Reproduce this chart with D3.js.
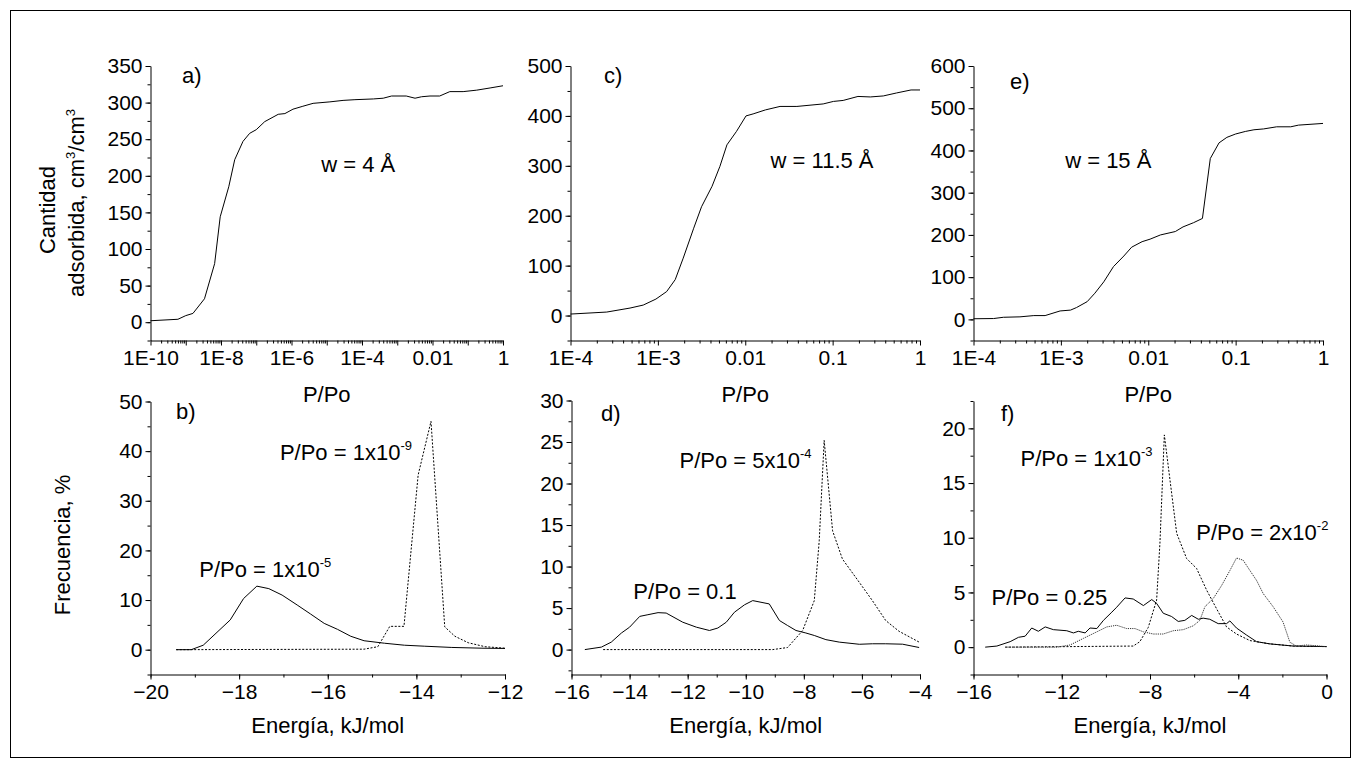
<!DOCTYPE html>
<html>
<head>
<meta charset="utf-8">
<script src="https://cdn.jsdelivr.net/npm/d3@7"></script>
<style>
    body { margin: 0; background: #fff; }
    svg { display: block; font-family: "Liberation Sans", Arial, sans-serif; }
</style>
</head>
<body>
<div id="chart"></div>
<script>
// ---- data: isotherms (P/Po, cm3/cm3) ----
let isoA = [[1e-10, 2], [6e-10, 4], [1.0e-9, 9], [1.6e-9, 12], [3.4e-9, 32], [6.6e-9, 80], [9.5e-9, 144],
    [1.66e-8, 185], [2.45e-8, 222], [4.2e-8, 247], [6.5e-8, 258], [1.0e-7, 263], [1.74e-7, 274], [4.2e-7, 284],
    [6.5e-7, 285], [1.1e-6, 291], [2.1e-6, 295], [4.1e-6, 299], [1.23e-5, 301], [2.9e-5, 303], [6.3e-5, 304],
    [2.1e-4, 305], [4.0e-4, 306], [6.9e-4, 309], [1.8e-3, 309], [3.2e-3, 306], [4.9e-3, 308], [8.5e-3, 309],
    [1.6e-2, 309], [3.1e-2, 315], [7.4e-2, 315], [1.8e-1, 317], [4.3e-1, 320], [1, 323]];
let isoC = [[1e-4, 3], [2.6e-4, 7], [4.8e-4, 15], [6.8e-4, 21], [9.5e-4, 33], [1.26e-3, 48], [1.58e-3, 72],
    [1.95e-3, 115], [2.57e-3, 175], [3.16e-3, 218], [4.17e-3, 259], [5.13e-3, 299], [6.17e-3, 342],
    [7.94e-3, 369], [1.02e-2, 400], [1.23e-2, 404], [1.7e-2, 412], [2.5e-2, 419], [3.9e-2, 419], [7.8e-2, 424],
    [1.02e-1, 429], [1.32e-1, 431], [1.95e-1, 439], [2.7e-1, 438], [3.8e-1, 440], [5.4e-1, 446], [7.9e-1, 452], [1, 452]];
let isoE = [[1e-4, 1.5], [1.7e-4, 2], [2.2e-4, 5], [3.4e-4, 6], [4.9e-4, 9], [6.6e-4, 9], [9.8e-4, 20],
    [1.29e-3, 22], [1.51e-3, 28], [2.0e-3, 42], [2.45e-3, 62], [3.1e-3, 89], [4.0e-3, 125], [5.25e-3, 150],
    [6.46e-3, 171], [8.5e-3, 184], [1.05e-2, 190], [1.38e-2, 200], [2.04e-2, 208], [2.5e-2, 219], [3.3e-2, 229],
    [4.17e-2, 239], [5.13e-2, 381], [6.46e-2, 418], [7.94e-2, 431], [0.1, 439], [0.129, 445], [0.162, 449],
    [0.209, 451], [0.295, 456], [0.427, 456], [0.525, 460], [1, 464]];

// ---- data: energy distributions (kJ/mol, %) ----
let freqB1e5 = [[-19.42, 0], [-19.08, 0], [-18.81, 0.9], [-18.2, 6], [-17.9, 10.3], [-17.6, 12.8], [-17.33, 12.3],
    [-17.03, 11], [-16.69, 9], [-16.39, 7.2], [-16.08, 5.3], [-15.78, 4.1], [-15.48, 2.7], [-15.18, 1.8],
    [-14.72, 1.3], [-14.27, 0.9], [-13.81, 0.7], [-13.2, 0.45], [-12.52, 0.3], [-12, 0.25]];
let freqB1e9 = [[-19.42, 0], [-15.18, 0.1], [-14.87, 0.6], [-14.6, 4.7], [-14.28, 4.7], [-13.96, 35.2],
    [-13.67, 46], [-13.36, 4.6], [-13.13, 2.7], [-12.83, 1.4], [-12.45, 0.6], [-12, 0.3]];
let freqD01 = [[-15.54, 0], [-14.97, 0.3], [-14.63, 0.9], [-14.28, 2], [-14.0, 2.7], [-13.65, 4.0], [-13.37, 4.2],
    [-13.02, 4.45], [-12.74, 4.4], [-12.17, 3.3], [-11.7, 2.7], [-11.25, 2.3], [-10.96, 2.6], [-10.67, 3.3],
    [-10.39, 4.5], [-10.04, 5.4], [-9.76, 5.9], [-9.19, 5.5], [-8.84, 3.5], [-8.56, 2.9], [-8.27, 2.3],
    [-7.93, 2], [-7.64, 1.7], [-7.24, 1.2], [-6.78, 0.9], [-6.09, 0.64], [-5.64, 0.7], [-5.18, 0.7],
    [-4.6, 0.65], [-4.03, 0.25]];
let freqD5e4 = [[-14.91, 0], [-9.07, 0], [-8.56, 0.25], [-8.04, 2.3], [-7.64, 5.9], [-7.47, 13.1], [-7.3, 25.2],
    [-7.01, 14.3], [-6.67, 10.9], [-6.09, 8.1], [-5.64, 5.9], [-5.18, 3.5], [-4.72, 2.2], [-4.03, 0.9]];
let freqF025 = [[-15.47, 0], [-14.94, 0.1], [-14.34, 0.5], [-13.96, 0.9], [-13.66, 1.0], [-13.36, 1.75],
    [-13.06, 1.45], [-12.75, 1.85], [-12.38, 1.6], [-11.77, 1.5], [-11.47, 1.3], [-11.25, 1.45], [-10.94, 1.3],
    [-10.72, 1.75], [-10.41, 1.7], [-10.11, 2.45], [-9.73, 3.2], [-9.51, 3.65], [-9.13, 4.5], [-8.76, 4.4],
    [-8.3, 3.8], [-7.92, 4.35], [-7.7, 4.0], [-7.4, 3.1], [-7.02, 2.8], [-6.72, 2.35], [-6.42, 2.45],
    [-6.11, 2.9], [-5.81, 2.55], [-5.59, 2.65], [-5.29, 2.55], [-4.91, 2.15], [-4.53, 2.15], [-4.38, 2.4],
    [-4.08, 1.75], [-3.62, 1.1], [-3.17, 0.5], [-2.57, 0.3], [-1.51, 0.1], [0, 0.05]];
let freqF1e3 = [[-14.56, 0], [-8.76, 0.1], [-8.46, 0.5], [-8.08, 1.8], [-7.7, 4.3], [-7.55, 9.5], [-7.35, 19.4],
    [-7.17, 16.5], [-6.79, 10.4], [-6.34, 8.1], [-5.89, 7.2], [-5.43, 5.2], [-4.98, 3.5], [-4.53, 1.85],
    [-4.08, 1.2], [-3.47, 0.6], [-2.57, 0.3], [-1.51, 0.1], [0, 0.05]];
let freqF2e2 = [[-14.56, 0], [-12.22, 0], [-11.62, 0.2], [-11.02, 0.8], [-10.41, 1.4], [-9.96, 1.85], [-9.51, 2.0],
    [-9.06, 1.7], [-8.68, 1.7], [-8.3, 1.4], [-7.85, 1.2], [-7.4, 1.2], [-6.95, 1.5], [-6.49, 1.6], [-6.04, 1.95],
    [-5.74, 2.45], [-5.51, 3.7], [-5.13, 4.45], [-4.75, 5.65], [-4.38, 7.0], [-4.08, 8.15], [-3.78, 7.95],
    [-3.47, 7.0], [-3.17, 6.1], [-2.87, 4.9], [-2.42, 3.7], [-1.97, 2.3], [-1.66, 0.45], [-1.36, 0.1],
    [-0.91, 0.2], [-0.61, 0.15], [0, 0.05]];

// ---- tick labels ----
let ticksLogA = [1e-10, 1e-8, 1e-6, 1e-4, 0.01, 1];
let labelsLogA = ["1E-10", "1E-8", "1E-6", "1E-4", "0.01", "1"];
let ticksLogCE = [1e-4, 1e-3, 0.01, 0.1, 1];
let labelsLogCE = ["1E-4", "1E-3", "0.01", "0.1", "1"];

let width = 1361, height = 768;
let tickFont = 21, textFont = 22;
let svg = d3.select("#chart").append("svg")
    .attr("width", width)
    .attr("height", height);

svg.append("rect")
    .attr("x", 10.5).attr("y", 10.5)
    .attr("width", 1340).attr("height", 747)
    .attr("fill", "none").attr("stroke", "#000").attr("stroke-width", 1);

let panels = [
    { id: "a", left: 150.5, right: 503, top: 66, bottom: 340.5, log: true,
      xDomain: [1e-10, 1], xTicks: ticksLogA, xLabels: labelsLogA,
      yDomain: [-25, 350], yStep: 50, yMinor: 25, label: [182, 83], xTitle: "P/Po",
      series: [{ data: isoA, dash: null }],
      notes: [{ x: 7.0e-6, y: 205, text: "w = 4 Å" }] },
    { id: "c", left: 570.5, right: 920, top: 66, bottom: 340.5, log: true,
      xDomain: [1e-4, 1], xTicks: ticksLogCE, xLabels: labelsLogCE,
      yDomain: [-50, 500], yStep: 100, yMinor: 50, label: [604, 83], xTitle: "P/Po",
      series: [{ data: isoC, dash: null }],
      notes: [{ x: 0.0195, y: 296, text: "w = 11.5 Å" }] },
    { id: "e", left: 973.5, right: 1323, top: 66, bottom: 340.5, log: true,
      xDomain: [1e-4, 1], xTicks: ticksLogCE, xLabels: labelsLogCE,
      yDomain: [-50, 600], yStep: 100, yMinor: 50, label: [1010, 89], xTitle: "P/Po",
      series: [{ data: isoE, dash: null }],
      notes: [{ x: 1.12e-3, y: 358, text: "w = 15 Å" }] },
    { id: "b", left: 150.5, right: 505, top: 401.5, bottom: 674.5, log: false,
      xDomain: [-20, -12], xStep: 2, xMinor: 1,
      yDomain: [-5, 50], yStep: 10, yMinor: 5, label: [176, 419], xTitle: "Energía, kJ/mol",
      series: [{ data: freqB1e5, dash: null }, { data: freqB1e9, dash: "2,1.6" }],
      notes: [{ x: -17.08, y: 38.2, text: "P/Po = 1x10", sup: "-9" },
              { x: -18.9, y: 14.7, text: "P/Po = 1x10", sup: "-5" }] },
    { id: "d", left: 571.5, right: 920, top: 400.5, bottom: 674.5, log: false,
      xDomain: [-16, -4], xStep: 2, xMinor: 1,
      yDomain: [-3, 30], yStep: 5, yMinor: 2.5, label: [601, 421], xTitle: "Energía, kJ/mol",
      series: [{ data: freqD01, dash: null }, { data: freqD5e4, dash: "2,1.6" }],
      notes: [{ x: -12.28, y: 21.9, text: "P/Po = 5x10", sup: "-4" },
              { x: -13.87, y: 6.1, text: "P/Po = 0.1" }] },
    { id: "f", left: 973.5, right: 1326.5, top: 401, bottom: 674.5, log: false,
      xDomain: [-16, 0], xStep: 4, xMinor: 2,
      yDomain: [-2.5, 22.5], yStep: 5, yMinor: 2.5, label: [1001, 421], xTitle: "Energía, kJ/mol",
      series: [{ data: freqF025, dash: null }, { data: freqF1e3, dash: "2,1.6" },
               { data: freqF2e2, dash: "1.2,1", color: "#333" }],
      notes: [{ x: -13.87, y: 16.6, text: "P/Po = 1x10", sup: "-3" },
              { x: -5.9, y: 9.8, text: "P/Po = 2x10", sup: "-2" },
              { x: -15.18, y: 3.86, text: "P/Po = 0.25" }] }
];

function styleAxis(g) {
    g.attr("font-family", null).attr("font-size", tickFont);
    g.selectAll("path, line").attr("stroke", "#000").attr("stroke-width", 1);
    g.selectAll("text").attr("fill", "#000");
}

function linTicks(lo, hi, step) {
    let first = Math.ceil(lo / step - 1e-9) * step;
    return d3.range(first, hi + 1e-9, step).map(v => +v.toFixed(6));
}

function drawPanel(p) {
    let g = svg.append("g").attr("class", "panel-" + p.id);
    let x = (p.log ? d3.scaleLog() : d3.scaleLinear()).domain(p.xDomain).range([p.left, p.right]);
    let y = d3.scaleLinear().domain(p.yDomain).range([p.bottom, p.top]);

    // x axis
    let xMinor, xMajor, xFmt;
    if (p.log) {
        let e0 = Math.round(Math.log10(p.xDomain[0])), e1 = Math.round(Math.log10(p.xDomain[1]));
        xMajor = d3.range(e0, e1 + 1).map(e => Math.pow(10, e));
        xMinor = [];
        for (let e = e0; e < e1; e++) for (let k = 2; k < 10; k++) xMinor.push(k * Math.pow(10, e));
        xFmt = d => {
            let i = p.xTicks.findIndex(t => Math.abs(Math.log10(t) - Math.log10(d)) < 1e-6);
            return i >= 0 ? p.xLabels[i] : "";
        };
    } else {
        xMajor = linTicks(p.xDomain[0], p.xDomain[1], p.xStep);
        xMinor = linTicks(p.xDomain[0], p.xDomain[1], p.xMinor);
        xFmt = d => d3.format("d")(d);
    }
    g.append("g").attr("transform", `translate(0,${p.bottom})`)
        .call(d3.axisBottom(x).tickValues(xMinor).tickSize(3).tickSizeOuter(0).tickFormat(""))
        .call(styleAxis).select(".domain").remove();
    g.append("g").attr("transform", `translate(0,${p.bottom})`)
        .call(d3.axisBottom(x).tickValues(xMajor).tickSize(5).tickPadding(5).tickSizeOuter(0).tickFormat(xFmt))
        .call(styleAxis);

    // y axis
    let yMajor = linTicks(Math.max(0, p.yDomain[0]), p.yDomain[1], p.yStep);
    let yMinor = linTicks(p.yDomain[0], p.yDomain[1], p.yMinor);
    g.append("g").attr("transform", `translate(${p.left},0)`)
        .call(d3.axisLeft(y).tickValues(yMinor).tickSize(3).tickSizeOuter(0).tickFormat(""))
        .call(styleAxis).select(".domain").remove();
    g.append("g").attr("transform", `translate(${p.left},0)`)
        .call(d3.axisLeft(y).tickValues(yMajor).tickSize(5).tickPadding(3).tickSizeOuter(0).tickFormat(d3.format("d")))
        .call(styleAxis);

    // lines
    let line = d3.line().x(d => x(d[0])).y(d => y(d[1]));
    g.selectAll(".series")
        .data(p.series)
        .join("path")
        .attr("class", "series")
        .attr("d", s => line(s.data))
        .attr("fill", "none")
        .attr("stroke", s => s.color || "#000")
        .attr("stroke-width", 1)
        .attr("stroke-dasharray", s => s.dash);

    // panel letter
    g.append("text")
        .attr("x", p.label[0]).attr("y", p.label[1])
        .attr("font-size", textFont)
        .text(p.id + ")");

    // annotations
    p.notes.forEach(n => {
        let t = g.append("text")
            .attr("x", x(n.x)).attr("y", y(n.y))
            .attr("font-size", textFont);
        t.append("tspan").text(n.text);
        if (n.sup) t.append("tspan").attr("dy", -10).attr("font-size", 13).text(n.sup);
    });

    // x title
    g.append("text")
        .attr("x", (p.left + p.right) / 2)
        .attr("y", p.bottom + (p.log ? 61 : 58.5))
        .attr("text-anchor", "middle")
        .attr("font-size", textFont)
        .text(p.xTitle);
}

panels.forEach(drawPanel);

// y titles
let yt1 = svg.append("g").attr("font-size", textFont).attr("text-anchor", "middle");
yt1.append("text")
    .attr("transform", "translate(55,210) rotate(-90)")
    .text("Cantidad");
let t2 = yt1.append("text")
    .attr("transform", "translate(84,203) rotate(-90)");
t2.append("tspan").text("adsorbida, cm");
t2.append("tspan").attr("dy", -9).attr("font-size", 13).text("3");
t2.append("tspan").attr("dy", 9).text("/cm");
t2.append("tspan").attr("dy", -9).attr("font-size", 13).text("3");

svg.append("text")
    .attr("transform", "translate(70,545) rotate(-90)")
    .attr("font-size", textFont)
    .attr("text-anchor", "middle")
    .text("Frecuencia, %");
</script>
</body>
</html>
